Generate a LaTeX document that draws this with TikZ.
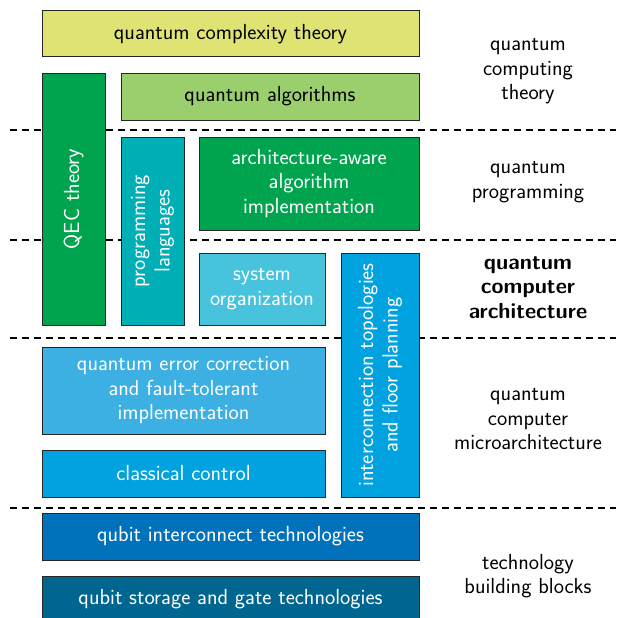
\documentclass[tikz,border=0pt]{standalone}
\usetikzlibrary{positioning}
\definecolor{cyellow}{RGB}{223,227,115}
\definecolor{clgreen}{RGB}{155,207,110}
\definecolor{cgreen}{RGB}{0,164,79}
\definecolor{cteal}{RGB}{0,174,181}
\definecolor{clcyan}{RGB}{71,195,221}
\definecolor{csky}{RGB}{60,175,227}
\definecolor{cblue}{RGB}{0,163,224}
\definecolor{cdblue}{RGB}{0,114,188}
\definecolor{cnavy}{RGB}{0,101,143}
\begin{document}
\begin{tikzpicture}[x=1pt,y=-1pt,
  box/.style={draw=black!85, line width=1pt, inner sep=0pt, align=center,
    font=\sffamily\fontsize{21.8}{24.5}\selectfont, text=white},
  lbl/.style={align=center, font=\sffamily\fontsize{21.8}{24.5}\selectfont},
  sep/.style={dashed, dash pattern=on 7pt off 5pt, line width=1.2pt}]
\useasboundingbox (0,0) rectangle (616,618);
\begin{scope}
\clip (0,0) rectangle (616,618);
% separators
\coordinate (s1a) at (10,130); \coordinate (s1b) at (616,130);
\coordinate (s2a) at (10,240); \coordinate (s2b) at (616,240);
\coordinate (s3a) at (10,338); \coordinate (s3b) at (616,338);
\coordinate (s4a) at (10,508); \coordinate (s4b) at (616,508);
\draw[sep] (s1a) -- (s1b);
\draw[sep] (s2a) -- (s2b);
\draw[sep] (s3a) -- (s3b);
\draw[sep] (s4a) -- (s4b);
% boxes
\node[box, fill=cyellow, text=black, minimum width=377, minimum height=46] (cct) at (230.5,34) {quantum complexity theory};
\node[box, fill=clgreen, text=black, minimum width=298, minimum height=47] (qa) at (270,96.5) {quantum algorithms};
\node[box, fill=cgreen, rotate=90, minimum width=252, minimum height=63] (qec) at (73.5,199) {QEC theory};
\node[box, fill=cteal, rotate=90, minimum width=188, minimum height=63] (pl) at (152.5,231) {programming\\languages};
\node[box, fill=cgreen, minimum width=220, minimum height=93] (aaa) at (309,183.5) {architecture-aware\\algorithm\\implementation};
\node[box, fill=clcyan, minimum width=126, minimum height=72] (so) at (262,289) {system\\organization};
\node[box, fill=cblue, rotate=90, minimum width=244, minimum height=78] (itfp) at (380,375) {interconnection topologies\\and floor planning};
\node[box, fill=csky, minimum width=283, minimum height=87] (qecft) at (183.5,390.5) {quantum error correction\\and fault-tolerant\\implementation};
\node[box, fill=cblue, minimum width=283, minimum height=47] (cc) at (183.5,473.5) {classical control};
\node[box, fill=cdblue, minimum width=377, minimum height=47] (qit) at (230.5,536.5) {qubit interconnect technologies};
\node[box, fill=cnavy, minimum width=377, minimum height=47] (qsg) at (230.5,599.5) {qubit storage and gate technologies};
% layer labels
\node[lbl] (l1) at (528,71.5) {quantum\\computing\\theory};
\node[lbl] (l2) at (528,182) {quantum\\programming};
\node[lbl, font=\sffamily\bfseries\fontsize{21.8}{24.5}\selectfont] (l3) at (528,287.5) {quantum\\computer\\architecture};
\node[lbl] (l4) at (528,419.5) {quantum\\computer\\microarchitecture};
\node[lbl] (l5) at (528,576) {technology\\building blocks};
\end{scope}
\end{tikzpicture}
\end{document}
